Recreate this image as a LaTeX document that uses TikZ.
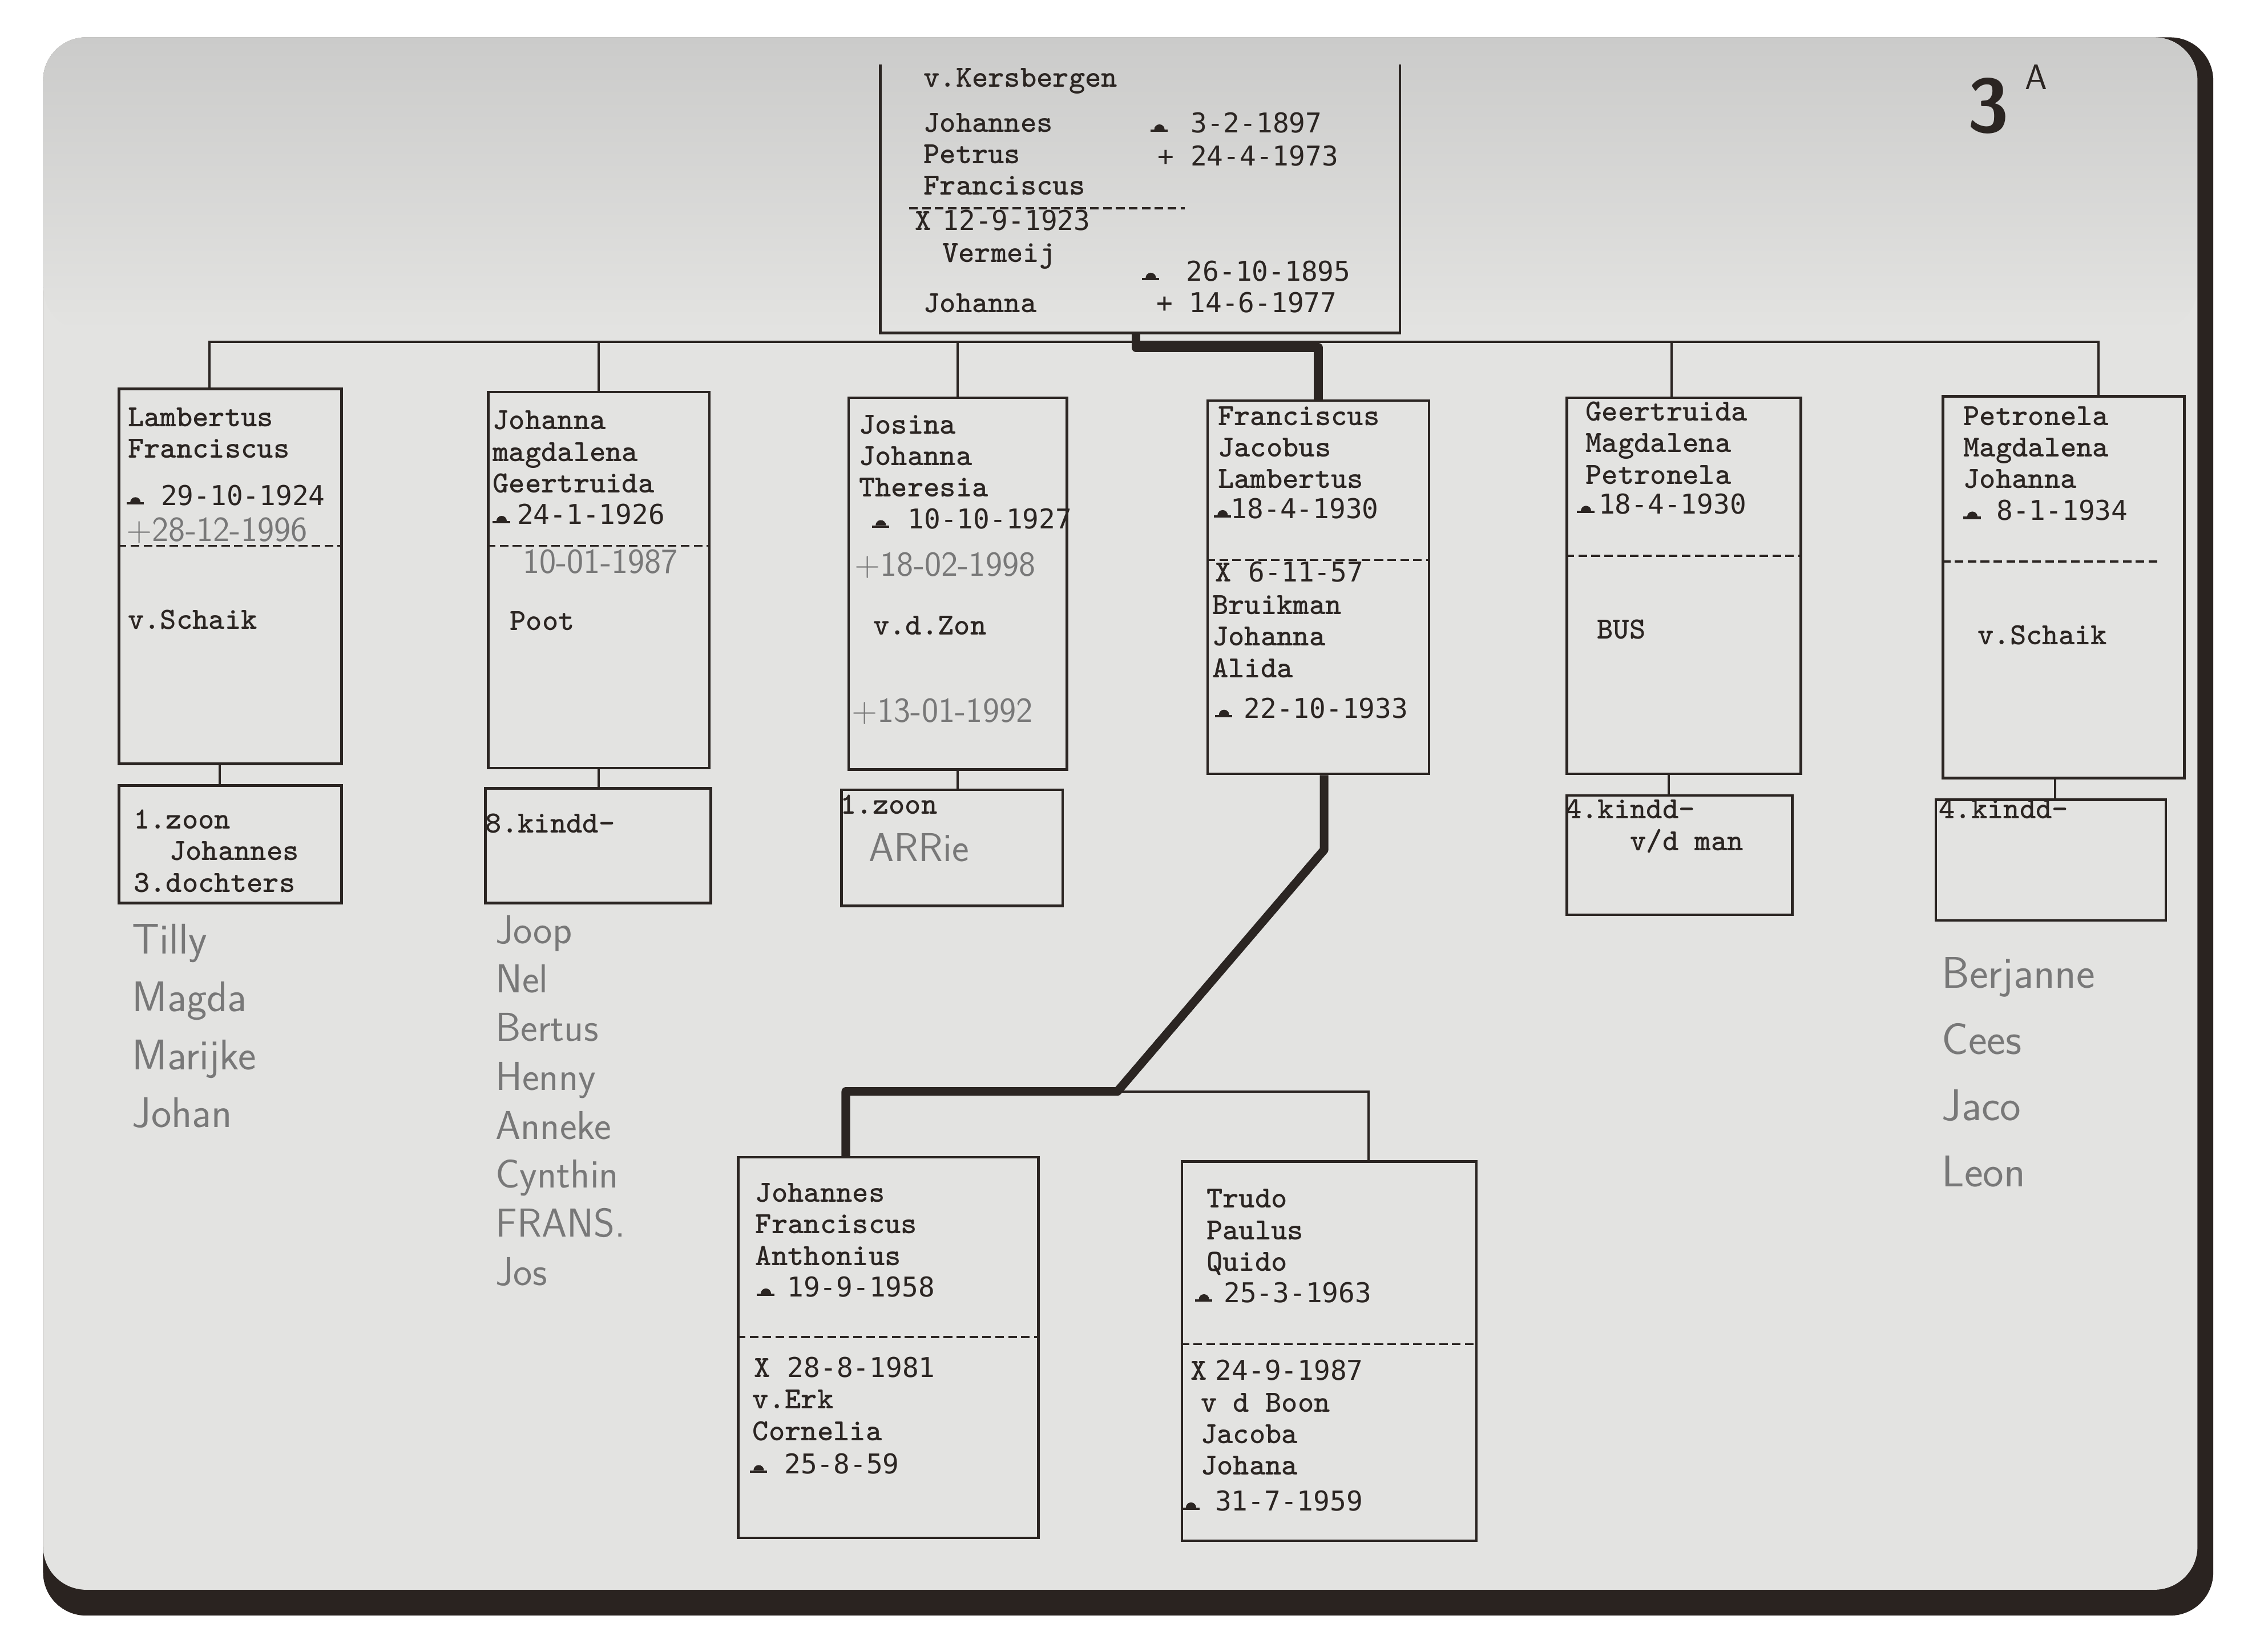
\documentclass[tikz,border=0pt]{standalone}
\usepackage{fontspec}
\newfontfamily\datefont{DejaVu Sans Mono}
\usetikzlibrary{positioning,calc}

\definecolor{ink}{HTML}{2B2522}
\definecolor{paper}{HTML}{E3E3E1}
\definecolor{papertop}{HTML}{CBCBCA}
\definecolor{pencil}{HTML}{787878}
\definecolor{frame}{HTML}{2A2320}

\newcommand\twfont{\ttfamily\bfseries\fontsize{61}{62.6}\selectfont}
\newcommand\dtfont{\datefont\fontsize{54}{62.6}\selectfont}
\newcommand\pendfont{\sffamily\fontsize{70}{70}\selectfont}
\newcommand\wed{{\twfont X}}
% birth sign of the typewriter
\newcommand\geb{\tikz[baseline=-0.6mm]{\fill[ink] (0,0) rectangle (12mm,1.6mm);
  \fill[ink] (2.6mm,1.6mm) arc[start angle=180,end angle=0,radius=3.6mm] -- cycle;}}

\begin{document}
\begin{tikzpicture}[x=1mm, y=-1mm,
  box/.style={draw=ink, line width=1.8mm, inner sep=0pt, anchor=north west},
  rule/.style={draw=ink, line width=1.8mm},
  divider/.style={draw=ink, line width=1.3mm, dash pattern=on 6mm off 3mm},
  link/.style={draw=ink, line width=1.6mm},
  heavy/.style={draw=ink, line width=6mm, line join=round},
  tw/.style={anchor=north west, inner sep=0pt, align=left, text=ink, font=\twfont},
  twb/.style={tw, anchor=base west},
  dat/.style={twb, font=\dtfont},
  pen/.style={anchor=north west, inner sep=0pt, align=left, text=pencil},
  pend/.style={anchor=base west, inner sep=0pt, text=pencil, font=\pendfont},
]
  \useasboundingbox (0,0) rectangle (1568,1150);
  \fill[white] (0,0) rectangle (1568,1150);
  % photo and paper
  \fill[frame, rounded corners=30mm] (30,26) rectangle (1541,1125);
  \fill[paper, rounded corners=30mm] (30,26) rectangle (1530,1107);
  \shade[top color=papertop, bottom color=paper, rounded corners=30mm] (30,26) rectangle (1530,230);

  % parents
  \node[box, draw=none, minimum width=360mm, minimum height=185mm] (ouders) at (613,45) {};
  \draw[rule] (ouders.north west) |- (ouders.south east) -- (ouders.north east);
  \draw[divider] (633,145) -- (825,145);
  \node[twb] (ln1) at (643,60.6) {v.Kersbergen};
  \node[tw] (vader) at (643,76.4) {\strut Johannes\\Petrus\\Franciscus};
  \node[dat] (vgeb) at (801,92.4) {\geb\hspace*{16mm}3-2-1897};
  \node[dat] (vdood) at (806,115.5) {+ 24-4-1973};
  \node[dat] (trouw) at (637,160.5) {\wed\hspace*{8mm}12-9-1923};
  \node[twb] (ln2) at (656,182.6) {Vermeij};
  \node[dat] (mgeb) at (795,195.7) {\geb\hspace*{19mm}26-10-1895};
  \node[twb] (moeder) at (643,217.6) {Johanna};
  \node[dat] (mdood) at (805,217.6) {+ 14-6-1977};

  % children
  \node[box, minimum width=155mm, minimum height=261mm] (b1) at (82,270) {};
  \node[box, minimum width=155mm, minimum height=82mm] (k1) at (82,546) {};
  \node[box, minimum width=154mm, minimum height=262mm] (b2) at (339,272) {};
  \node[box, minimum width=157mm, minimum height=80mm] (k2) at (337,548) {};
  \node[box, minimum width=152mm, minimum height=259mm] (b3) at (590,276) {};
  \node[box, minimum width=154mm, minimum height=81mm] (k3) at (585,549) {};
  \node[box, minimum width=154mm, minimum height=260mm] (b4) at (840,278) {};
  \node[box, minimum width=163mm, minimum height=262mm] (b5) at (1090,276) {};
  \node[box, minimum width=157mm, minimum height=83mm] (k5) at (1090,553) {};
  \node[box, minimum width=168mm, minimum height=266mm] (b6) at (1352,275) {};
  \node[box, minimum width=160mm, minimum height=84mm] (k6) at (1347,556) {};

  \draw[divider] (b1.west |- 0,380) -- (b1.east |- 0,380);
  \draw[divider] (b2.west |- 0,380) -- (b2.east |- 0,380);
  \draw[divider] (b4.west |- 0,390) -- (b4.east |- 0,390);
  \draw[divider] (b5.west |- 0,387) -- (b5.east |- 0,387);
  \draw[divider] (b6.west |- 0,391) -- (1505,391);

  \node[tw] (n1) at (89,281.6) {\strut Lambertus\\Franciscus};
  \node[dat] (g1) at (88,352) {\geb\hspace*{12mm}29-10-1924};
  \node[pend] (d1) at (88,377) {+28-12-1996};
  \node[twb] (p1) at (89,438) {v.Schaik};
  \node[tw] (t1) at (93,561.6) {\strut 1.zoon\\\hspace*{25mm}Johannes\\3.dochters};

  \node[tw] (n2) at (343,283.6) {\strut Johanna\\magdalena\\Geertruida};
  \node[dat] (g2) at (343,365) {\geb\hspace*{5mm}24-1-1926};
  \node[pend] (d2) at (364,399) {10-01-1987};
  \node[twb] (p2) at (355,439) {Poot};
  \node[twb] (t2) at (338,580) {8.kindd-};

  \node[tw] (n3) at (598,286.6) {\strut Josina\\Johanna\\Theresia};
  \node[dat] (g3) at (607,368) {\geb\hspace*{13mm}10-10-1927};
  \node[pend] (d3) at (595,401) {+18-02-1998};
  \node[twb] (p3) at (608,442) {v.d.Zon};
  \node[pend] (q3) at (593,503) {+13-01-1992};
  \node[twb] (t3) at (585,567) {1.zoon};
  \node[pend, font=\sffamily\fontsize{80}{80}\selectfont] (a3) at (605,600) {ARRie};

  \node[tw] (n4) at (848,280.6) {\strut Franciscus\\Jacobus\\Lambertus};
  \node[dat] (g4) at (845,361) {\geb\hspace*{0mm}18-4-1930};
  \node[dat] (w4) at (846,405) {\wed\hspace*{12mm}6-11-57};
  \node[tw] (p4) at (844,414.5) {Bruikman\\Johanna\\Alida};
  \node[dat] (h4) at (846,500) {\geb\hspace*{8mm}22-10-1933};

  \node[tw] (n5) at (1104,277.6) {\strut Geertruida\\Magdalena\\Petronela};
  \node[dat] (g5) at (1098,358) {\geb\hspace*{3mm}18-4-1930};
  \node[twb] (p5) at (1112,445) {BUS};
  \node[tw] (t5) at (1090,554.6) {\strut 4.kindd-\\\hspace*{45mm}v/d man};

  \node[tw] (n6) at (1367,280.6) {\strut Petronela\\Magdalena\\Johanna};
  \node[dat] (g6) at (1367,362) {\geb\hspace*{11mm}8-1-1934};
  \node[twb] (p6) at (1377,449) {v.Schaik};
  \node[twb] (t6) at (1350,570) {4.kindd-};

  % grandchildren
  \node[box, minimum width=209mm, minimum height=265mm] (c1) at (513,805) {};
  \node[box, minimum width=205mm, minimum height=264mm] (c2) at (822,808) {};
  \draw[divider] (c1.west |- 0,931) -- (c1.east |- 0,931);
  \draw[divider] (c2.west |- 0,936) -- (c2.east |- 0,936);

  \node[tw] (m1) at (526,821.6) {\strut Johannes\\Franciscus\\Anthonius};
  \node[dat] (e1) at (527,903) {\geb\hspace*{9mm}19-9-1958};
  \node[dat] (f1) at (525,959) {\wed\hspace*{12mm}28-8-1981};
  \node[tw] (s1) at (524,965.6) {\strut v.Erk\\Cornelia};
  \node[dat] (r1) at (522,1026) {\geb\hspace*{12mm}25-8-59};

  \node[tw] (m2) at (840,825.6) {\strut Trudo\\Paulus\\Quido};
  \node[dat] (e2) at (832,907) {\geb\hspace*{8mm}25-3-1963};
  \node[dat] (f2) at (829,961) {\wed\hspace*{6mm}24-9-1987};
  \node[tw] (s2) at (836,967.6) {\strut v d Boon\\Jacoba\\Johana};
  \node[dat] (r2) at (823,1052) {\geb\hspace*{11mm}31-7-1959};

  % pencil notes
  \node[pen, font=\sffamily\fontsize{85}{114.7}\selectfont] (lijst1) at (92,635.8)
    {\strut Tilly\\Magda\\Marijke\\Johan};
  \node[pen, font=\sffamily\fontsize{80}{96.8}\selectfont] (lijst2) at (345,633.2)
    {\strut Joop\\Nel\\Bertus\\Henny\\Anneke\\Cynthin\\FRANS.\\Jos};
  \node[pen, font=\sffamily\fontsize{88}{131}\selectfont] (lijst6) at (1352,655.8)
    {\strut Berjanne\\Cees\\Jaco\\Leon};

  % page number
  \node[anchor=base west, inner sep=0pt, text=ink, font=\sffamily\bfseries\fontsize{150}{150}\selectfont] (blad) at (1370,92) {3};
  \node[anchor=base west, inner sep=0pt, text=ink, font=\sffamily\fontsize{70}{70}\selectfont] (bladA) at (1410,62) {A};

  % lines of descent
  \coordinate (rail) at (0,238);
  \coordinate (hrail) at (0,242);
  \coordinate (split) at (778,760);
  \draw[link] ([xshift=-14.5mm]b1.north) |- ([xshift=24mm]b6.north |- rail) -- ([xshift=24mm]b6.north);
  \draw[link] (b2.north) -- (b2.north |- rail);
  \draw[link] (b3.north) -- (b3.north |- rail);
  \draw[link] ([xshift=-8.5mm]b5.north) -- ([xshift=-8.5mm]b5.north |- rail);
  \draw[heavy] ([xshift=-3mm]ouders.south) |- (b4.north |- hrail) -- (b4.north);

  \draw[link] ([xshift=-7.5mm]b1.south) -- ([xshift=-7.5mm]b1.south |- k1.north);
  \draw[link] (b2.south) -- (b2.south |- k2.north);
  \draw[link] (b3.south) -- (b3.south |- k3.north);
  \draw[link] ([xshift=-10.5mm]b5.south) -- ([xshift=-10.5mm]b5.south |- k5.north);
  \draw[link] ([xshift=-6mm]b6.south) -- ([xshift=-6mm]b6.south |- k6.north);

  \draw[heavy] ([xshift=4mm]b4.south) -- ++(0,52) -- (split) -| ([xshift=-29.5mm]c1.north);
  \draw[link] (split) -| ([xshift=27.5mm]c2.north);
\end{tikzpicture}
\end{document}
